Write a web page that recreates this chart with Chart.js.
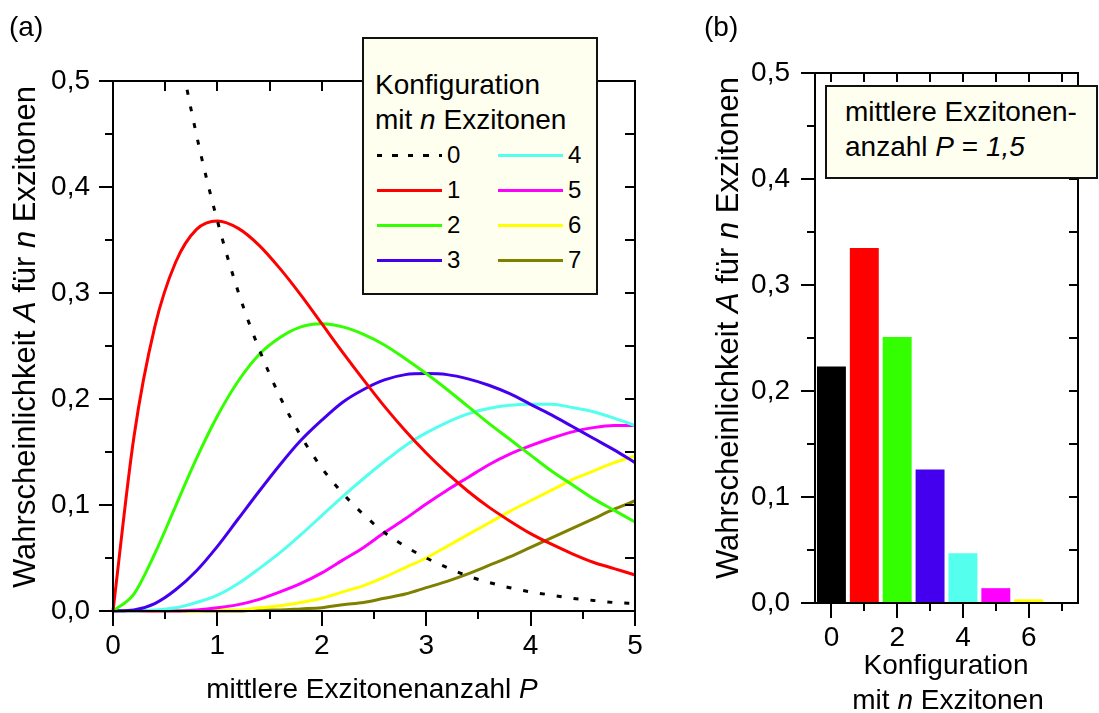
<!DOCTYPE html>
<html lang="de">
<head>
<meta charset="utf-8">
<title>Wahrscheinlichkeit für n Exzitonen</title>
<script src="https://cdn.jsdelivr.net/npm/chart.js@4/dist/chart.umd.min.js"></script>
<style>
  html, body { margin: 0; padding: 0; background: #fff; }
  body { width: 1099px; height: 713px; position: relative; overflow: hidden;
         font-family: "Liberation Sans", Arial, sans-serif; color: #000; }
  canvas { position: absolute; top: 0; }
  .txt { position: absolute; font-size: 28px; line-height: 28px; white-space: nowrap; }
  .klein { font-size: 24px; line-height: 24px; }
  .kasten { position: absolute; background: #fffff0; border: 2px solid #111; box-sizing: border-box; }
  .strich { position: absolute; width: 65px; height: 3px; }
  .dreh { font-size: 31px; line-height: 31px; transform: translate(-50%, -50%) rotate(-90deg); }
  .mitte { transform: translateX(-50%); }
</style>
</head>
<body>
<canvas id="links" width="680" height="713" style="left:0"></canvas>
<canvas id="rechts" width="409" height="713" style="left:690px"></canvas>

<div class="txt" style="left:9px; top:13px">(a)</div>
<div class="txt" style="left:704px; top:13px">(b)</div>

<div class="txt dreh" style="left:24px; top:337px">Wahrscheinlichkeit <i>A</i> für <i>n</i> Exzitonen</div>
<div class="txt mitte" style="left:372px; top:675px">mittlere Exzitonenanzahl <i>P</i></div>

<div class="txt dreh" style="left:727px; top:328px">Wahrscheinlichkeit <i>A</i> für <i>n</i> Exzitonen</div>
<div class="txt mitte" style="left:946px; top:651px">Konfiguration</div>
<div class="txt mitte" style="left:948px; top:686px">mit <i>n</i> Exzitonen</div>

<!-- Legende links -->
<div class="kasten" style="left:362px; top:37px; width:236px; height:258px"></div>
<div class="txt" style="left:375px; top:71px">Konfiguration</div>
<div class="txt" style="left:375px; top:106px">mit <i>n</i> Exzitonen</div>
<div id="legende"></div>

<!-- Legende rechts -->
<div class="kasten" style="left:825px; top:85px; width:273px; height:94px"></div>
<div class="txt" style="left:845px; top:98px">mittlere Exzitonen-</div>
<div class="txt" style="left:845px; top:133px">anzahl <i>P</i> = <i>1,5</i></div>

<script>
// mittlere Exzitonenanzahl P (x-Werte der Kurven)
const P = [0, 0.2, 0.4, 0.6, 0.8, 1.0, 1.2, 1.4, 1.6, 1.8, 2.0, 2.2, 2.4, 2.6, 2.8,
           3.0, 3.2, 3.4, 3.6, 3.8, 4.0, 4.2, 4.4, 4.6, 4.8, 5.0];

const n0 = [1.000, 0.819, 0.670, 0.549, 0.449, 0.368, 0.301, 0.247, 0.202, 0.165, 0.135, 0.111, 0.091,
            0.074, 0.061, 0.050, 0.041, 0.033, 0.027, 0.022, 0.018, 0.015, 0.012, 0.010, 0.008, 0.007];
const n1 = [0, 0.164, 0.268, 0.329, 0.360, 0.368, 0.361, 0.345, 0.323, 0.298, 0.271, 0.244, 0.218,
            0.193, 0.170, 0.149, 0.130, 0.113, 0.098, 0.085, 0.073, 0.063, 0.054, 0.046, 0.040, 0.034];
const n2 = [0, 0.016, 0.054, 0.099, 0.144, 0.184, 0.217, 0.242, 0.258, 0.268, 0.271, 0.268, 0.261,
            0.251, 0.238, 0.224, 0.209, 0.193, 0.177, 0.162, 0.147, 0.132, 0.119, 0.106, 0.095, 0.084];
const n3 = [0, 0.001, 0.007, 0.020, 0.038, 0.061, 0.087, 0.113, 0.138, 0.161, 0.180, 0.197, 0.209,
            0.218, 0.223, 0.224, 0.223, 0.219, 0.213, 0.205, 0.195, 0.185, 0.174, 0.163, 0.152, 0.140];
const n4 = [0, 0.000, 0.001, 0.003, 0.008, 0.015, 0.026, 0.040, 0.055, 0.072, 0.090, 0.108, 0.125,
            0.141, 0.156, 0.168, 0.178, 0.186, 0.191, 0.194, 0.195, 0.195, 0.192, 0.188, 0.182, 0.175];
const n5 = [0, 0.000, 0.000, 0.000, 0.001, 0.003, 0.006, 0.011, 0.018, 0.026, 0.036, 0.048, 0.060,
            0.074, 0.087, 0.101, 0.114, 0.126, 0.138, 0.148, 0.156, 0.163, 0.169, 0.173, 0.175, 0.175];
const n6 = [0, 0.000, 0.000, 0.000, 0.000, 0.001, 0.001, 0.003, 0.005, 0.008, 0.012, 0.018, 0.024,
            0.032, 0.041, 0.050, 0.061, 0.072, 0.083, 0.094, 0.104, 0.114, 0.124, 0.132, 0.140, 0.146];
const n7 = [0, 0.000, 0.000, 0.000, 0.000, 0.000, 0.000, 0.001, 0.001, 0.002, 0.003, 0.006, 0.008,
            0.012, 0.016, 0.022, 0.028, 0.035, 0.043, 0.051, 0.060, 0.069, 0.078, 0.087, 0.096, 0.104];

// Balken bei P = 1,5
const konfigurationen = ["0", "1", "2", "3", "4", "5", "6", "7"];
const balkenWerte = [0.223, 0.335, 0.251, 0.126, 0.047, 0.014, 0.0035, 0.0008];

const farben = ["#000000", "#ff0000", "#33ff00", "#4400ee", "#55ffee", "#ff00ff", "#ffff00", "#808000"];

// Teilstriche
const yTeilstriche = [0, 0.05, 0.1, 0.15, 0.2, 0.25, 0.3, 0.35, 0.4, 0.45, 0.5];
const pTeilstriche = [0, 0.5, 1, 1.5, 2, 2.5, 3, 3.5, 4, 4.5, 5];
const nTeilstriche = [0, 1, 2, 3, 4, 5, 6, 7];

const schrift = { family: '"Liberation Sans", Arial, sans-serif', size: 28 };
const komma = v => v.toFixed(1).replace(".", ",");

// Rahmen mit Teilstrichen: unten/links nach außen, oben/rechts nach innen
const rahmen = {
    id: "rahmen",
    afterDraw(chart, args, o) {
        const { ctx, chartArea: a, scales } = chart;
        const linie = (x1, y1, x2, y2) => {
            ctx.beginPath(); ctx.moveTo(x1, y1); ctx.lineTo(x2, y2); ctx.stroke();
        };
        ctx.save();
        ctx.strokeStyle = "#000";
        ctx.lineWidth = 2;
        ctx.lineCap = "square";
        ctx.strokeRect(a.left, a.top, a.right - a.left, a.bottom - a.top);
        o.y.forEach((v, i) => {
            const y = Math.round(scales.y.getPixelForValue(v));
            const gross = i % 2 === 0;
            linie(a.left - (gross ? 13 : 7), y, a.left, y);
            linie(a.right - o.innen, y, a.right, y);
        });
        o.x.forEach((v, i) => {
            const x = Math.round(scales.x.getPixelForValue(v));
            const gross = i % 2 === 0;
            linie(x, a.bottom, x, a.bottom + (gross ? 14 : 7));
            linie(x, a.top, x, a.top + o.innen);
        });
        ctx.restore();
    }
};

const kurven = [n0, n1, n2, n3, n4, n5, n6, n7];

new Chart(document.getElementById("links"), {
    type: "line",
    data: {
        datasets: kurven.map((werte, n) => ({
            label: String(n),
            data: P.map((p, i) => ({ x: p, y: werte[i] })),
            borderColor: farben[n],
            borderWidth: 3,
            borderDash: n === 0 ? [5, 12] : [],
            pointRadius: 0,
            cubicInterpolationMode: "monotone",
            clip: n === 0 ? 0 : 3
        }))
    },
    options: {
        responsive: false,
        animation: false,
        devicePixelRatio: 1,
        layout: { padding: { left: 0, top: 81, right: 45, bottom: 0 } },
        plugins: {
            legend: { display: false },
            tooltip: { enabled: false },
            rahmen: { x: pTeilstriche, y: yTeilstriche, innen: 9 }
        },
        scales: {
            x: {
                type: "linear", min: 0, max: 5,
                afterFit: s => { s.height = 102; },
                grid: { display: false, drawTicks: false },
                border: { display: false },
                ticks: { stepSize: 1, padding: 18, font: schrift, color: "#000", maxRotation: 0 }
            },
            y: {
                min: 0, max: 0.5,
                afterFit: s => { s.width = 113; },
                grid: { display: false, drawTicks: false },
                border: { display: false },
                ticks: { stepSize: 0.1, padding: 23, font: schrift, color: "#000", callback: komma }
            }
        }
    },
    plugins: [rahmen]
});

new Chart(document.getElementById("rechts"), {
    type: "bar",
    data: {
        labels: konfigurationen,
        datasets: [{
            data: balkenWerte,
            backgroundColor: farben,
            borderWidth: 0,
            barPercentage: 0.88,
            categoryPercentage: 1
        }]
    },
    options: {
        responsive: false,
        animation: false,
        devicePixelRatio: 1,
        layout: { padding: { left: 0, top: 73, right: 21, bottom: 0 } },
        plugins: {
            legend: { display: false },
            tooltip: { enabled: false },
            rahmen: { x: nTeilstriche, y: yTeilstriche, innen: 8 }
        },
        scales: {
            x: {
                afterFit: s => { s.height = 110; },
                grid: { display: false, drawTicks: false },
                border: { display: false },
                ticks: {
                    autoSkip: false, maxRotation: 0, padding: 18, font: schrift, color: "#000",
                    callback: (v, i) => (i % 2 === 0 ? konfigurationen[i] : "")
                }
            },
            y: {
                min: 0, max: 0.5,
                afterFit: s => { s.width = 125; },
                grid: { display: false, drawTicks: false },
                border: { display: false },
                ticks: { stepSize: 0.1, padding: 25, font: schrift, color: "#000", callback: komma }
            }
        }
    },
    plugins: [rahmen]
});

// Legendeneinträge links (zwei Spalten)
const legende = document.getElementById("legende");
konfigurationen.forEach((name, n) => {
    const spalte = n < 4 ? 0 : 1;
    const zeile = n % 4;
    const mitte = 155 + zeile * 35;
    const sx = spalte === 0 ? 377 : 498;
    const strich = document.createElement("div");
    strich.className = "strich";
    strich.style.left = sx + "px";
    strich.style.top = (mitte - 1.5) + "px";
    strich.style.background = n === 0
        ? "repeating-linear-gradient(to right, #000 0 5px, transparent 5px 15.5px)"
        : farben[n];
    legende.appendChild(strich);
    const text = document.createElement("div");
    text.className = "txt klein";
    text.style.left = (sx + 70) + "px";
    text.style.top = (mitte - 12) + "px";
    text.textContent = name;
    legende.appendChild(text);
});
</script>
</body>
</html>
